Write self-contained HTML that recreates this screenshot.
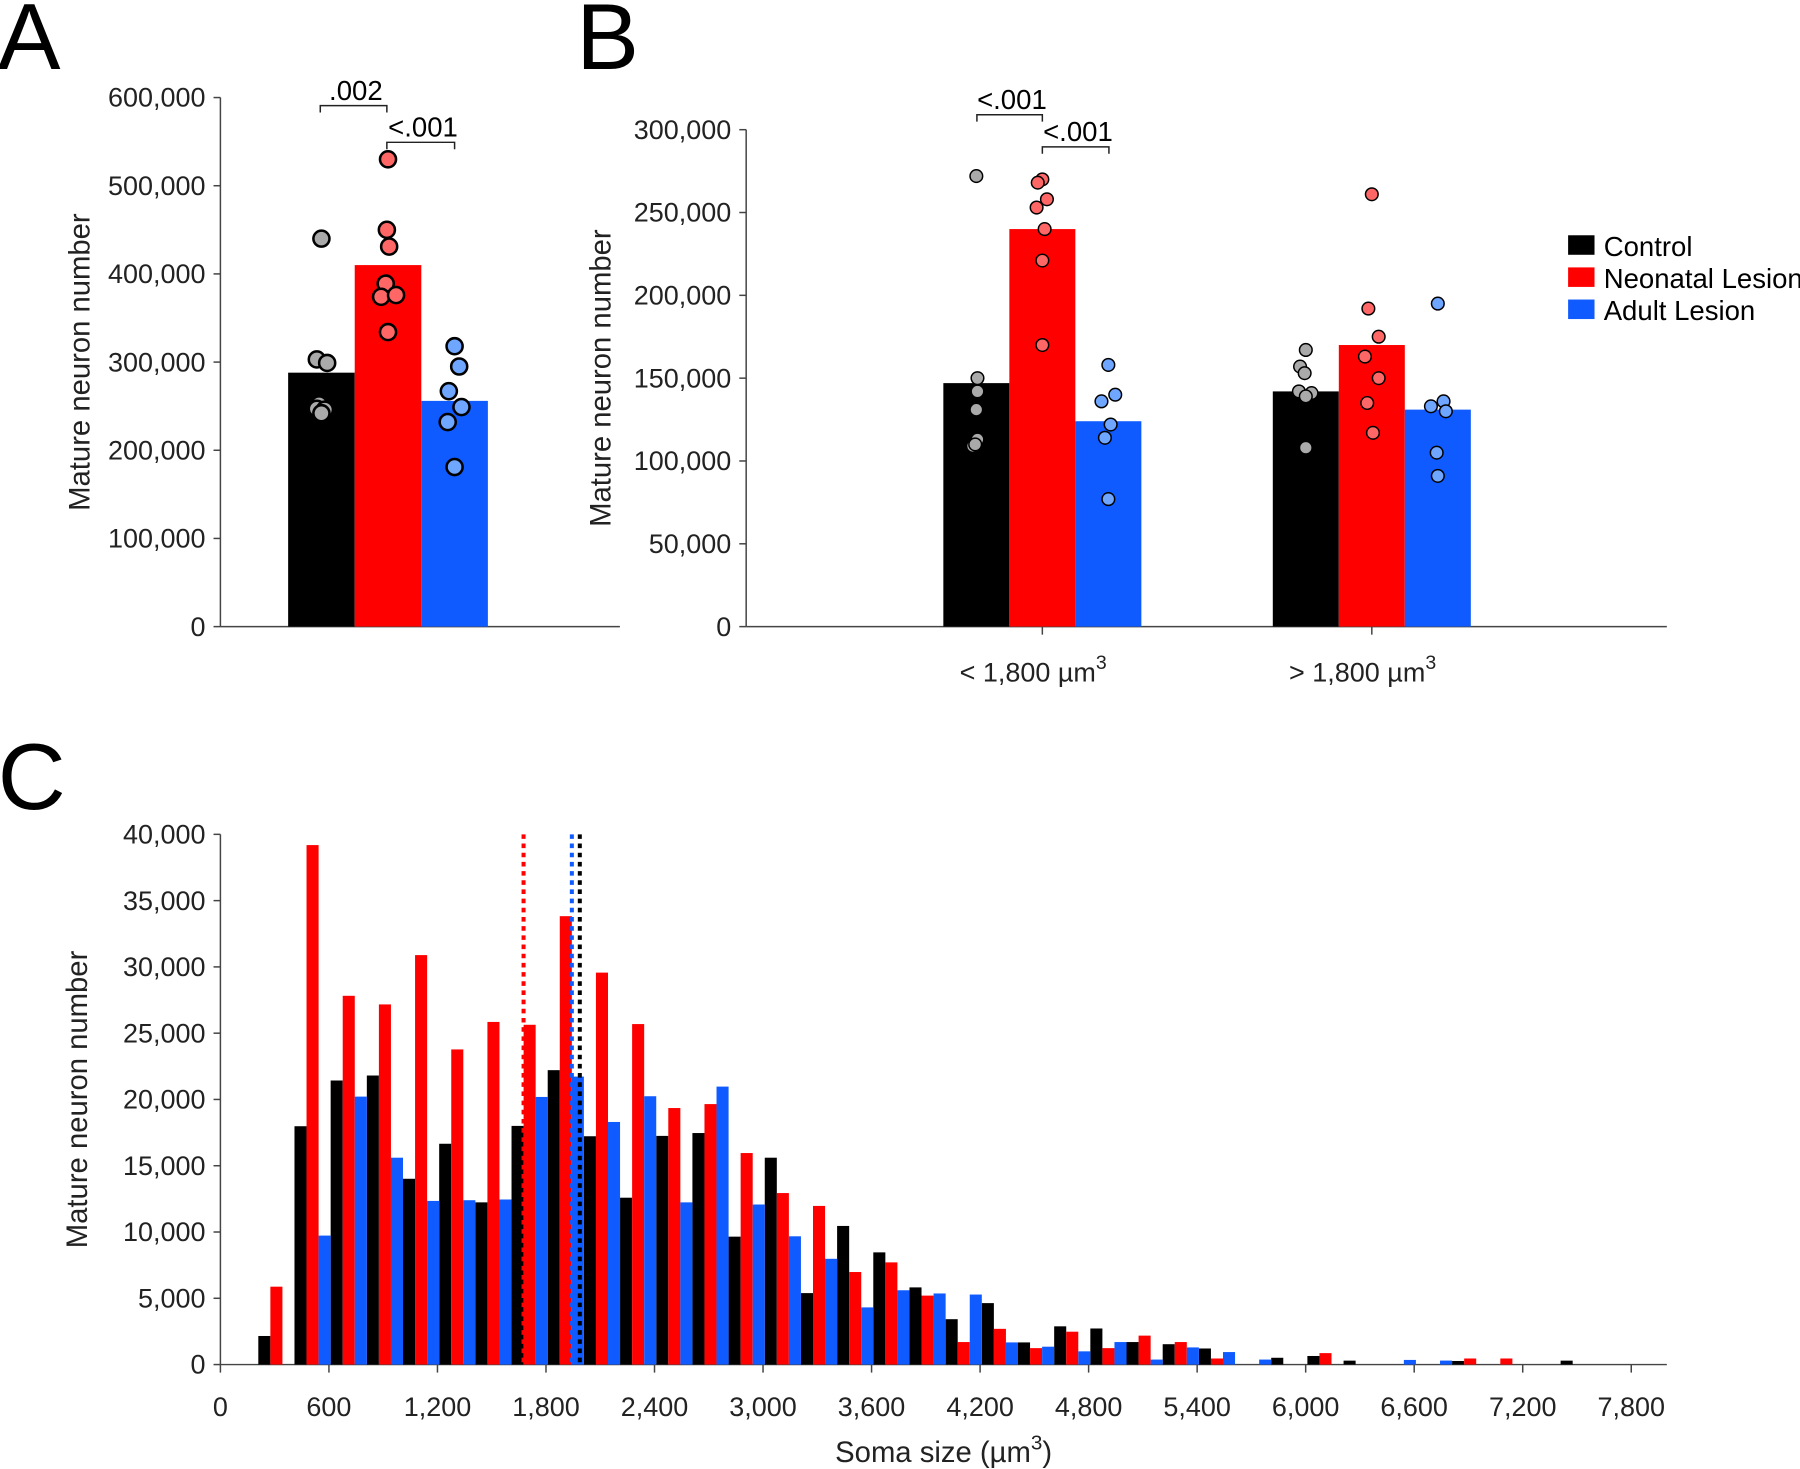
<!DOCTYPE html>
<html><head><meta charset="utf-8">
<style>
html,body{margin:0;padding:0;background:#fff;}
svg{display:block;font-family:"Liberation Sans",Arial,sans-serif;}
</style></head>
<body>
<svg id="fig" width="1800" height="1469" viewBox="0 0 1568 1280" preserveAspectRatio="none" xmlns="http://www.w3.org/2000/svg">
<rect width="1568" height="1280" fill="#fff"/>
<text x="-2" y="60" font-size="82">A</text>
<text x="502" y="60" font-size="82">B</text>
<text x="-2" y="705" font-size="82">C</text>
<g id="A"></g>
<g id="B"></g>
<g id="C"></g>
<g id="legend"></g>
</svg>
<script>
const groupNames = ["Control","Neonatal Lesion","Adult Lesion"];
const barColors = ["#000000","#ff0000","#0f5bff"];
const dotColors = ["#aaaaaa","#ff6666","#6fa6ff"];
// Panel A
const aTicks = [0,100000,200000,300000,400000,500000,600000];
const aMeans = [288000,410000,256000];
const aDots = [[440000,303000,299000,252000,247000,246000,242000],
               [530000,450000,431000,389000,374000,376000,334000],
               [318000,295000,267000,249000,232000,181000]];
const aJitter = [[0,-4,5,-2,-4,3,0],[0,-1,1,-2,-6,7,0],[0,4,-5,6,-6,0]];
// Panel B
const bCats = ["< 1,800 µm","> 1,800 µm"];
const bTicks = [0,50000,100000,150000,200000,250000,300000];
const bMeans = [[147000,240000,124000],[142000,170000,131000]];
const bDots = [
 [[272000,150000,142000,131000,113000,109000,110000],[270000,268000,258000,253000,240000,221000,170000],[158000,140000,136000,122000,114000,77000]],
 [[167000,157000,153000,142000,141000,139000,108000],[261000,192000,175000,163000,150000,135000,117000],[195000,133000,136000,130000,105000,91000]]];
const bJitter = [
 [[0,1,1,0,1,-3,-1],[0,-4,4,-5,2,0,0],[0,6,-6,2,-3,0]],
 [[0,-5,-1,-6,5,0,0],[0,-3,6,-6,6,-4,1],[0,-6,5,7,-1,0]]];
// Panel C
const cBinStart = 200, cBinWidth = 200;
const cTicksY = [0,5000,10000,15000,20000,25000,30000,35000,40000];
const cTicksX = [0,600,1200,1800,2400,3000,3600,4200,4800,5400,6000,6600,7200,7800];
const cControl = [2156,17980,21430,21806,14016,16658,12237,18005,22210,17224,12588,17251,17466,9650,15606,5391,10458,8464,5822,3423,4636,1671,2884,2722,1698,1536,1213,0,512,647,296,0,0,270,0,0,296];
const cNeonatal = [5876,39190,27820,27170,30890,23774,25849,25633,33827,29569,25687,19353,19650,15957,12938,11968,6981,7709,5202,1698,2695,1240,2480,1240,2183,1698,458,0,0,863,0,0,0,458,458,0,0];
const cAdult = [0,9730,20215,15606,12345,12399,12453,20189,21725,18302,20243,12237,20970,12075,9677,7978,4313,5606,5364,5283,1671,1348,997,1698,377,1294,943,377,0,0,0,350,300,0,0,0,0];
const cMeanLines = [1987,1676,1943];

const TICK_FS = 23.5, TITLE_FS = 25.5;
const NS="http://www.w3.org/2000/svg";
function mk(parent,tag,attrs,text){const e=document.createElementNS(NS,tag);for(const k in attrs)e.setAttribute(k,attrs[k]);if(text!==undefined)e.textContent=text;parent.appendChild(e);return e;}
const fmt=v=>v.toLocaleString('en-US');

function yAxis(g,x,y0,y1,ticks,max,title,titleX,name){
  const sy=v=>y0-(v/max)*(y0-y1);
  let l=mk(g,'line',{x1:x,y1:y0,x2:x,y2:y1,stroke:'#444','stroke-width':1.3});
  
  
  ticks.forEach(t=>{
    mk(g,'line',{x1:x-6,y1:sy(t),x2:x,y2:sy(t),stroke:'#444','stroke-width':1.3});
    let tx=mk(g,'text',{x:x-13,y:sy(t)+8,'font-size':TICK_FS,'text-anchor':'end',fill:'#222'},fmt(t));
    
    
  });
  const cy=(y0+y1)/2;
  let tt=mk(g,'text',{x:titleX,y:cy,'font-size':TITLE_FS,'text-anchor':'middle',transform:`rotate(-90 ${titleX} ${cy})`,fill:'#222'},title);
  
  
  return sy;
}
function dot(g,cx,cy,r,fill,sw){let c=mk(g,'circle',{cx,cy,r,fill,stroke:'#000','stroke-width':sw});
  
  }
function bracket(g,x1,x2,y,label){
  mk(g,'path',{d:`M${x1} ${y+6}V${y}H${x2}V${y+6}`,fill:'none',stroke:'#222','stroke-width':1.3});
  let t=mk(g,'text',{x:(x1+x2)/2+2,y:y-5,'font-size':24,'text-anchor':'middle',fill:'#000'},label);
  
  
}

// Panel A
(function(){
  const g=document.getElementById('A');
  const sy=yAxis(g,192,546,85,aTicks,600000,'Mature neuron number',78,'panel-a');
  mk(g,'line',{x1:192,y1:546,x2:540,y2:546,stroke:'#444','stroke-width':1.3});
  const x0=251,w=58;
  aMeans.forEach((v,i)=>{let r=mk(g,'rect',{x:x0+i*w,y:sy(v),width:w,height:546-sy(v),fill:barColors[i]});
    
    });
  aDots.forEach((arr,i)=>arr.forEach((v,j)=>dot(g,x0+i*w+w/2+aJitter[i][j],sy(v),7,dotColors[i],2.2)));
  bracket(g,279,337,92,'.002');
  bracket(g,337,396,124,'<.001');
})();
// Panel B
(function(){
  const g=document.getElementById('B');
  const sy=yAxis(g,650,546,113,bTicks,300000,'Mature neuron number',532,'panel-b');
  mk(g,'line',{x1:650,y1:546,x2:1452,y2:546,stroke:'#444','stroke-width':1.3});
  const centers=[908,1195],w=57.5;
  bCats.forEach((c,k)=>{
    mk(g,'line',{x1:centers[k],y1:546,x2:centers[k],y2:553,stroke:'#444','stroke-width':1.3});
    let t=mk(g,'text',{x:centers[k]-8,y:594,'font-size':TICK_FS,'text-anchor':'middle',fill:'#222'});
    
    
    t.textContent=c;
    mk(t,'tspan',{dy:-11,'font-size':17},'3');
    bMeans[k].forEach((v,i)=>{let r=mk(g,'rect',{x:centers[k]-1.5*w+i*w,y:sy(v),width:w,height:546-sy(v),fill:barColors[i]});
      
      });
    bDots[k].forEach((arr,i)=>arr.forEach((v,j)=>dot(g,centers[k]-w+i*w+bJitter[k][i][j],sy(v),5.5,dotColors[i],1.3)));
  });
  bracket(g,851,908,100,'<.001');
  bracket(g,908,966,128,'<.001');
})();
// Legend
(function(){
  const g=document.getElementById('legend');
  groupNames.forEach((n,i)=>{
    let r=mk(g,'rect',{x:1366,y:205+i*28,width:23,height:17,fill:barColors[i]});
    
    
    let t=mk(g,'text',{x:1397,y:223+i*28,'font-size':24,fill:'#000'},n);
    
    
  });
})();
// Panel C
(function(){
  const g=document.getElementById('C');
  const sy=yAxis(g,192,1189,727,cTicksY,40000,'Mature neuron number',76,'panel-c');
  const sx=v=>192+v/7800*(1421-192);
  mk(g,'line',{x1:192,y1:1189,x2:1452,y2:1189,stroke:'#444','stroke-width':1.3});
  cTicksX.forEach(t=>{
    mk(g,'line',{x1:sx(t),y1:1189,x2:sx(t),y2:1196,stroke:'#444','stroke-width':1.3});
    let tx=mk(g,'text',{x:sx(t),y:1234,'font-size':TICK_FS,'text-anchor':'middle',fill:'#222'},fmt(t));
    
    
  });
  let xt=mk(g,'text',{x:822,y:1274,'font-size':TITLE_FS,'text-anchor':'middle',fill:'#222'},'Soma size (µm');
  
  
  mk(xt,'tspan',{dy:-11,'font-size':18},'3');
  mk(xt,'tspan',{dy:11},')');
  const series=[cControl,cNeonatal,cAdult];
  const bw=sx(cBinWidth)-sx(0);
  series.forEach((arr,s)=>arr.forEach((v,i)=>{
    if(v<=0)return;
    const x=sx(cBinStart+i*cBinWidth)+s*bw/3+1.5;
    let r=mk(g,'rect',{x:x,y:sy(v),width:bw/3,height:1189-sy(v),fill:barColors[s]});
    
    
  }));
  cMeanLines.forEach((m,s)=>{
    let l=mk(g,'line',{x1:sx(m),y1:727,x2:sx(m),y2:1189,stroke:barColors[s],'stroke-width':3.5,'stroke-dasharray':'4 4'});
    
    
  });
})();
</script>
</body></html>
